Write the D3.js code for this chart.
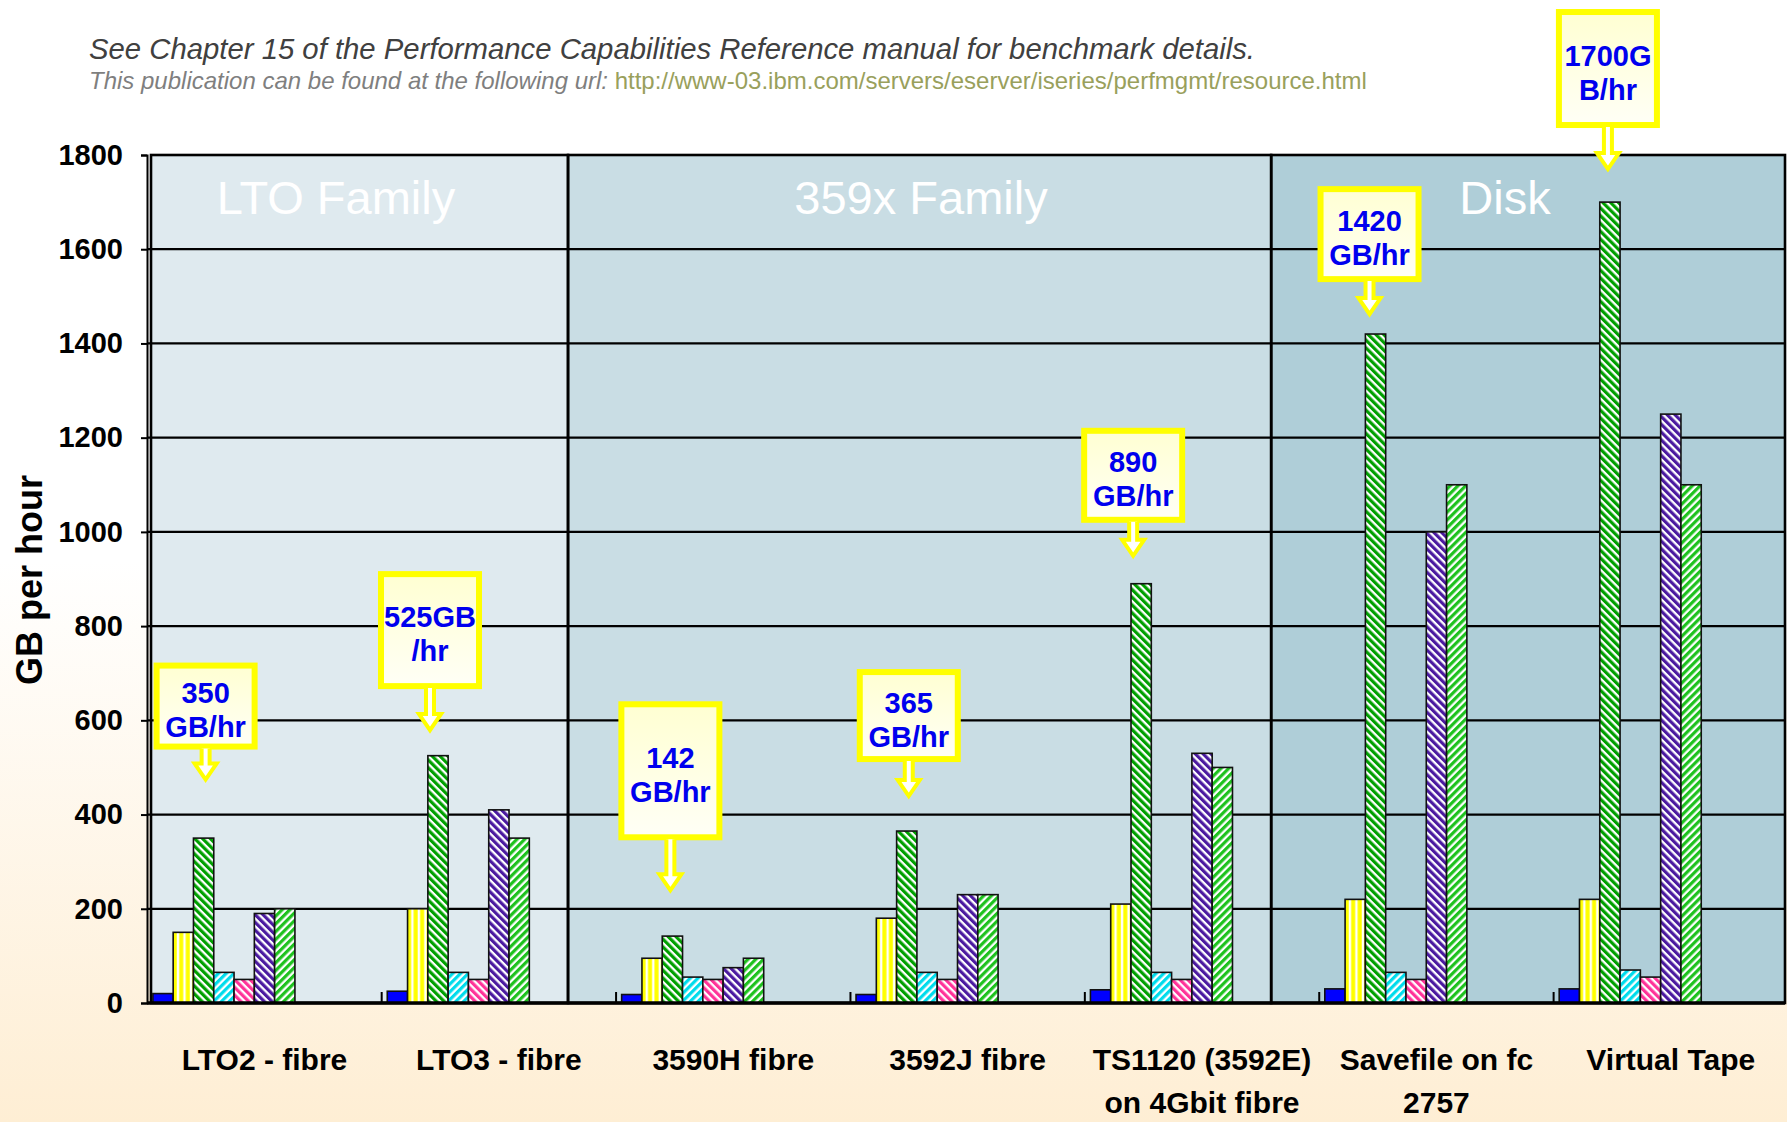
<!DOCTYPE html>
<html>
<head>
<meta charset="utf-8">
<script src="https://cdn.jsdelivr.net/npm/d3@7"></script>
<style>
  body { margin: 0; background: #fff; }
  svg { display: block; font-family: Arial, "Liberation Sans", sans-serif; }
</style>
</head>
<body>
<svg id="chart" width="1787" height="1122"></svg>
<script>
// Categories and their axis label lines
const categories = ["LTO2 - fibre", "LTO3 - fibre", "3590H fibre", "3592J fibre",
  "TS1120 (3592E) on 4Gbit fibre", "Savefile on fc 2757", "Virtual Tape"];
const categoryLines = [["LTO2 - fibre"], ["LTO3 - fibre"], ["3590H fibre"], ["3592J fibre"],
  ["TS1120 (3592E)", "on 4Gbit fibre"], ["Savefile on fc", "2757"], ["Virtual Tape"]];

// GB per hour, one array per bar series (left to right inside each group)
const seriesBlue   = [20, 25, 18, 18, 28, 30, 30];
const seriesYellow = [150, 200, 95, 180, 210, 220, 220];
const seriesGreen  = [350, 525, 142, 365, 890, 1420, 1700];
const seriesCyan   = [65, 65, 55, 65, 65, 65, 70];
const seriesPink   = [50, 50, 50, 50, 50, 50, 55];
const seriesPurple = [190, 410, 75, 230, 530, 1000, 1250];
const seriesGreen2 = [200, 350, 95, 230, 500, 1100, 1100];

const yTicks = [0, 200, 400, 600, 800, 1000, 1200, 1400, 1600, 1800];

// Family bands over the categories
const familyNames = ["LTO Family", "359x Family", "Disk"];
const familyFirstCat = [0, 2, 5];

// Callouts: text and where the arrow points (GB/hr)
const calloutCats = [0, 1, 2, 3, 4, 5, 6];
const calloutText = [["350", "GB/hr"], ["525GB", "/hr"], ["142", "GB/hr"], ["365", "GB/hr"],
  ["890", "GB/hr"], ["1420", "GB/hr"], ["1700G", "B/hr"]];
const calloutTip = [470, 575, 235, 435, 945, 1458, 1766];
const calloutBoxH = [87, 118, 139, 93, 95, 96, 119];
const calloutStem = [32, 43, 52, 36, 35, 34, 43];
const calloutDx = [2, -8, -2, 2, -8, -6, -2];

const series = [
  { key: "blue", values: seriesBlue, color: "#0000ff", pat: null },
  { key: "yellow", values: seriesYellow, color: "#ffff00", pat: "vert" },
  { key: "green", values: seriesGreen, color: "#00a000", pat: -45 },
  { key: "cyan", values: seriesCyan, color: "#00dcec", pat: 45 },
  { key: "pink", values: seriesPink, color: "#ff3399", pat: -45 },
  { key: "purple", values: seriesPurple, color: "#4b1aa0", pat: -45 },
  { key: "green2", values: seriesGreen2, color: "#1ec21e", pat: 45 }
];

const W = 1787, H = 1122;
const plot = { left: 147, right: 1785, top: 155, bottom: 1003 };

const svg = d3.select("#chart");
const defs = svg.append("defs");

// page background: white fading into peach
const bg = defs.append("linearGradient").attr("id", "bg")
  .attr("x1", 0).attr("y1", 0).attr("x2", 0).attr("y2", 1);
bg.append("stop").attr("offset", "0.5").attr("stop-color", "#ffffff");
bg.append("stop").attr("offset", "1").attr("stop-color", "#feeed4");
svg.append("rect").attr("width", W).attr("height", H).attr("fill", "url(#bg)");

const boxFill = defs.append("linearGradient").attr("id", "boxFill")
  .attr("x1", 0).attr("y1", 0).attr("x2", 0).attr("y2", 1);
boxFill.append("stop").attr("offset", "0").attr("stop-color", "#ffffd2");
boxFill.append("stop").attr("offset", "1").attr("stop-color", "#fffff6");

// hatch patterns
series.forEach(s => {
  if (!s.pat) return;
  if (s.pat === "vert") {
    const p = defs.append("pattern").attr("id", "pat-" + s.key)
      .attr("patternUnits", "userSpaceOnUse").attr("width", 6.5).attr("height", 10);
    p.append("rect").attr("width", 6.5).attr("height", 10).attr("fill", s.color);
    p.append("rect").attr("x", 3.5).attr("width", 2.4).attr("height", 10).attr("fill", "#fff");
  } else {
    const p = defs.append("pattern").attr("id", "pat-" + s.key)
      .attr("patternUnits", "userSpaceOnUse").attr("width", 5.5).attr("height", 10)
      .attr("patternTransform", `rotate(${s.pat})`);
    p.append("rect").attr("width", 5.5).attr("height", 10).attr("fill", "#fff");
    p.append("rect").attr("width", 3.2).attr("height", 10).attr("fill", s.color);
  }
});

// heading
svg.append("text").attr("x", 89).attr("y", 59)
  .attr("font-size", 29.3).attr("font-style", "italic").attr("fill", "#404040")
  .text("See Chapter 15 of the Performance Capabilities Reference manual for benchmark details.");
const sub = svg.append("text").attr("x", 89).attr("y", 89)
  .attr("font-size", 24).attr("font-style", "italic");
sub.append("tspan").attr("fill", "#7f7f7f").text("This publication can be found at the following url: ");
sub.append("tspan").attr("fill", "#99a05c").attr("font-style", "normal")
  .text("http://www-03.ibm.com/servers/eserver/iseries/perfmgmt/resource.html");

// scales
const y = d3.scaleLinear().domain([0, 1800]).range([plot.bottom, plot.top]);
const x0 = d3.scaleBand().domain(categories).range([147.3, 1788]);
const slot = x0.bandwidth() / 11.55; // chart leaves room for 11 bars per group
const x1 = d3.scaleBand().domain(series.map(s => s.key))
  .range([slot * 0.275, slot * 7.275]).padding(0);

// family regions
const familyColors = ["#dfeaef", "#c9dde4", "#afced8"];
const famX = familyFirstCat.map((c, i) =>
  i === 0 ? plot.left + 4 : x0(categories[c]) - 0.205 * x0.bandwidth());
famX.push(plot.right);
const fam = svg.append("g");
familyNames.forEach((name, i) => {
  fam.append("rect")
    .attr("x", famX[i]).attr("y", plot.top)
    .attr("width", famX[i + 1] - famX[i]).attr("height", plot.bottom - plot.top)
    .attr("fill", familyColors[i]);
});

// gridlines
svg.append("g").selectAll("line")
  .data(yTicks.filter(d => d > 0 && d < 1800))
  .join("line")
  .attr("x1", plot.left).attr("x2", plot.right)
  .attr("y1", d => y(d)).attr("y2", d => y(d))
  .attr("stroke", "#000").attr("stroke-width", 2.2);

// family borders + labels
familyNames.forEach((name, i) => {
  fam.append("rect")
    .attr("x", famX[i]).attr("y", plot.top)
    .attr("width", famX[i + 1] - famX[i]).attr("height", plot.bottom - plot.top)
    .attr("fill", "none").attr("stroke", "#000").attr("stroke-width", 2.6);
});
svg.append("g").selectAll("text")
  .data(familyNames)
  .join("text")
  .attr("x", (d, i) => [336, 921, 1505][i])
  .attr("y", 214)
  .attr("text-anchor", "middle")
  .attr("font-size", 47).attr("fill", "#fff")
  .text(d => d);

// y axis
const yAxis = svg.append("g")
  .attr("transform", `translate(${plot.left},0)`)
  .call(d3.axisLeft(y).tickValues(yTicks).tickFormat(d3.format("d"))
    .tickSize(6).tickPadding(18));
yAxis.select(".domain").attr("stroke", "#000").attr("stroke-width", 2);
yAxis.selectAll(".tick line").attr("stroke", "#000").attr("stroke-width", 2);
yAxis.selectAll(".tick text")
  .attr("font-size", 29).attr("font-weight", "bold").attr("fill", "#000")
  .attr("font-family", "Arial, 'Liberation Sans', sans-serif");

svg.append("text")
  .attr("transform", "translate(42,580) rotate(-90)")
  .attr("text-anchor", "middle")
  .attr("font-size", 36).attr("font-weight", "bold").attr("fill", "#000")
  .text("GB per hour");

// bars
const groups = svg.append("g").selectAll("g")
  .data(categories)
  .join("g")
  .attr("transform", d => `translate(${x0(d)},0)`);

groups.selectAll("rect")
  .data((d, ci) => series.map(s => ({ key: s.key, s, value: s.values[ci] })))
  .join("rect")
  .attr("x", d => x1(d.key))
  .attr("y", d => y(d.value))
  .attr("width", x1.bandwidth())
  .attr("height", d => y(0) - y(d.value))
  .attr("fill", d => d.s.pat ? `url(#pat-${d.key})` : d.s.color)
  .attr("stroke", "#111").attr("stroke-width", 1.6);

// x axis line and category ticks
svg.append("line")
  .attr("x1", plot.left).attr("x2", plot.right)
  .attr("y1", plot.bottom).attr("y2", plot.bottom)
  .attr("stroke", "#000").attr("stroke-width", 3.5);
svg.append("g").selectAll("line")
  .data(categories.slice(1))
  .join("line")
  .attr("x1", d => x0(d)).attr("x2", d => x0(d))
  .attr("y1", plot.bottom).attr("y2", plot.bottom - 11)
  .attr("stroke", "#000").attr("stroke-width", 2);

// category labels
const xl = svg.append("g").selectAll("text")
  .data(categories)
  .join("text")
  .attr("x", d => x0(d) + x0.bandwidth() / 2)
  .attr("y", 1070)
  .attr("text-anchor", "middle")
  .attr("font-size", 30).attr("font-weight", "bold").attr("fill", "#000");
xl.selectAll("tspan")
  .data((d, i) => categoryLines[i])
  .join("tspan")
  .attr("x", function () { return this.parentNode.getAttribute("x"); })
  .attr("dy", (d, i) => i === 0 ? 0 : 43)
  .text(d => d);

// callouts
const call = svg.append("g");
calloutCats.forEach((ci, i) => {
  const cx = x0(categories[ci]) + x1("green") + x1.bandwidth() / 2 + calloutDx[i];
  const tip = y(calloutTip[i]);
  const bottom = tip - calloutStem[i];
  const top = bottom - calloutBoxH[i];
  const g = call.append("g");
  g.append("rect")
    .attr("x", cx - 49).attr("y", top + 3)
    .attr("width", 98).attr("height", calloutBoxH[i] - 6)
    .attr("fill", "url(#boxFill)")
    .attr("stroke", "#ffff00").attr("stroke-width", 6);
  const hb = tip - 18;
  g.append("path")
    .attr("d", `M${cx - 4},${bottom - 1} L${cx - 4},${hb} L${cx - 11},${hb} L${cx},${tip - 2}
                L${cx + 11},${hb} L${cx + 4},${hb} L${cx + 4},${bottom - 1}`)
    .attr("fill", "#fff").attr("stroke", "#ffff00").attr("stroke-width", 4)
    .attr("stroke-linejoin", "miter");
  const mid = (top + bottom) / 2;
  calloutText[i].forEach((t, k) => {
    g.append("text")
      .attr("x", cx).attr("y", mid - 3 + k * 34)
      .attr("text-anchor", "middle")
      .attr("font-size", 29).attr("font-weight", "bold").attr("fill", "#0000ee")
      .text(t);
  });
});
</script>
</body>
</html>
